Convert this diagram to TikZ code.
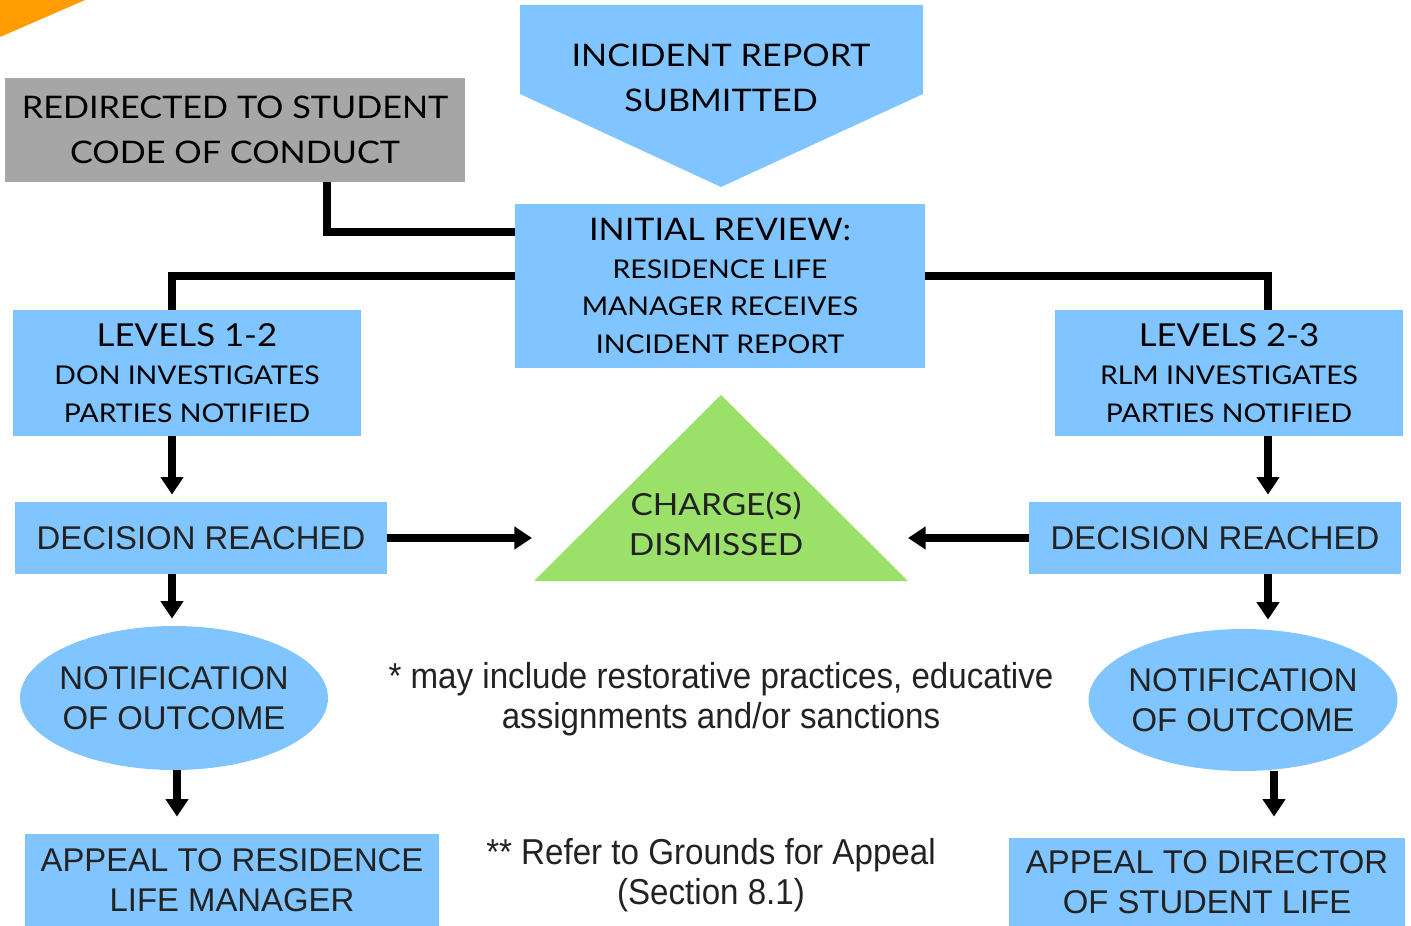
\documentclass[tikz,border=0pt]{standalone}
\usepackage{fontspec}
\setmainfont{Liberation Sans}
\newfontfamily\ralfont[FakeStretch=1.1]{Lato}
\newfontfamily\narrowfont[FakeStretch=0.92]{Liberation Sans}
\usetikzlibrary{arrows.meta,shapes.geometric}

\definecolor{boxblue}{HTML}{80C5FF}
\definecolor{boxgray}{HTML}{A6A6A6}
\definecolor{dismissgreen}{HTML}{9BE169}
\definecolor{cornerorange}{HTML}{FF9C00}
\definecolor{textgray}{HTML}{222222}

\begin{document}
\begin{tikzpicture}[x=0.02cm,y=-0.02cm,
        bluebox/.style={fill=boxblue,inner sep=0pt,align=center},
        bigtext/.style={font=\ralfont\fontsize{17.7}{25.5}\selectfont,text=black},
        smalltext/.style={font=\ralfont\fontsize{14.7}{21.5}\selectfont,text=black},
        arialtext/.style={font=\fontsize{18.7}{22.7}\selectfont,text=textgray},
        notetext/.style={font=\narrowfont\fontsize{20.5}{22.7}\selectfont,text=textgray,align=center},
        link/.style={line width=4pt},
        arr/.style={line width=4pt,-{Triangle[width=12.5pt,length=10pt]}}]
    \useasboundingbox (0,0) rectangle (1411,926);

    % corner and shapes
    \fill[cornerorange] (0,0) -- (85,0) -- (0,37) -- cycle;
    \fill[boxblue] (520,5) -- (923,5) -- (923,94) -- (721,187) -- (520,94) -- cycle;
    \fill[dismissgreen] (721,395) -- (908,581) -- (534,581) -- cycle;

    \node[bigtext,align=center] (incident) at (721,78) {INCIDENT REPORT\\SUBMITTED};
    \node[bigtext,fill=boxgray,inner sep=0pt,align=center,minimum width=9.2cm,minimum height=2.08cm]
        (redirect) at (235,130) {REDIRECTED TO STUDENT\\CODE OF CONDUCT};
    \node[bluebox,smalltext,minimum width=8.2cm,minimum height=3.28cm] (review) at (720,286)
        {{\fontsize{17.7}{21.5}\selectfont INITIAL REVIEW:}\\RESIDENCE LIFE\\MANAGER RECEIVES\\INCIDENT REPORT};
    \node[bluebox,smalltext,minimum width=6.96cm,minimum height=2.52cm] (lev12) at (187,373)
        {{\fontsize{18}{21.5}\selectfont LEVELS 1-2}\\DON INVESTIGATES\\PARTIES NOTIFIED};
    \node[bluebox,smalltext,minimum width=6.96cm,minimum height=2.52cm] (lev23) at (1229,373)
        {{\fontsize{18}{21.5}\selectfont LEVELS 2-3}\\RLM INVESTIGATES\\PARTIES NOTIFIED};

    \node[bluebox,arialtext,minimum width=7.44cm,minimum height=1.44cm] (decL) at (201,538) {DECISION REACHED};
    \node[bluebox,arialtext,minimum width=7.44cm,minimum height=1.44cm] (decR) at (1215,538) {DECISION REACHED};
    \node[font=\ralfont\fontsize{17.3}{22.7}\selectfont,text=textgray,align=center] (dismiss) at (716,524) {CHARGE(S)\\DISMISSED};

    \node[ellipse,bluebox,arialtext,inner xsep=-4pt,minimum width=6.16cm,minimum height=2.88cm] (notifL) at (174,698) {NOTIFICATION\\OF OUTCOME};
    \node[ellipse,bluebox,arialtext,inner xsep=-4pt,minimum width=6.18cm,minimum height=2.84cm] (notifR) at (1243,700) {NOTIFICATION\\OF OUTCOME};

    \node[bluebox,arialtext,minimum width=8.28cm,minimum height=1.84cm] (appealL) at (232,880) {APPEAL TO RESIDENCE\\LIFE MANAGER};
    \node[bluebox,arialtext,minimum width=7.92cm,minimum height=1.76cm] (appealR) at (1207,882) {APPEAL TO DIRECTOR\\OF STUDENT LIFE};

    \node[notetext] (note1) at (721,699) {* may include restorative practices, educative\\assignments and/or sanctions};
    \node[notetext] (note2) at (711,875) {** Refer to Grounds for Appeal\\(Section 8.1)};

    % connector columns
    \coordinate (gx) at (327,0);
    \coordinate (gy) at (0,232);
    \coordinate (ty) at (0,276);
    \coordinate (lx) at (172,0);
    \coordinate (lxb) at (177,0);
    \coordinate (rx) at (1268,0);
    \coordinate (rxb) at (1274,0);
    \coordinate (tipL) at (532,538);
    \coordinate (tipR) at (908,538);

    \draw[link] (gx |- redirect.south) |- (review.west |- gy);
    \draw[link] (review.west |- ty) -| (lx |- lev12.north);
    \draw[link] (review.east |- ty) -| (rx |- lev23.north);

    \draw[arr,shorten >=.14cm] (lx |- lev12.south) -- (lx |- decL.north);
    \draw[arr,shorten >=.14cm] (lx |- decL.south) -- (lx |- notifL.north);
    \draw[arr,shorten >=.34cm] (lxb |- notifL.south) -- (lxb |- appealL.north);
    \draw[arr,shorten >=.14cm] (rx |- lev23.south) -- (rx |- decR.north);
    \draw[arr,shorten >=.18cm] (rx |- decR.south) -- (rx |- notifR.north);
    \draw[arr,shorten >=.42cm] (rxb |- notifR.south) -- (rxb |- appealR.north);

    \draw[arr] (decL.east) -- (tipL);
    \draw[arr] (decR.west) -- (tipR);
\end{tikzpicture}
\end{document}
